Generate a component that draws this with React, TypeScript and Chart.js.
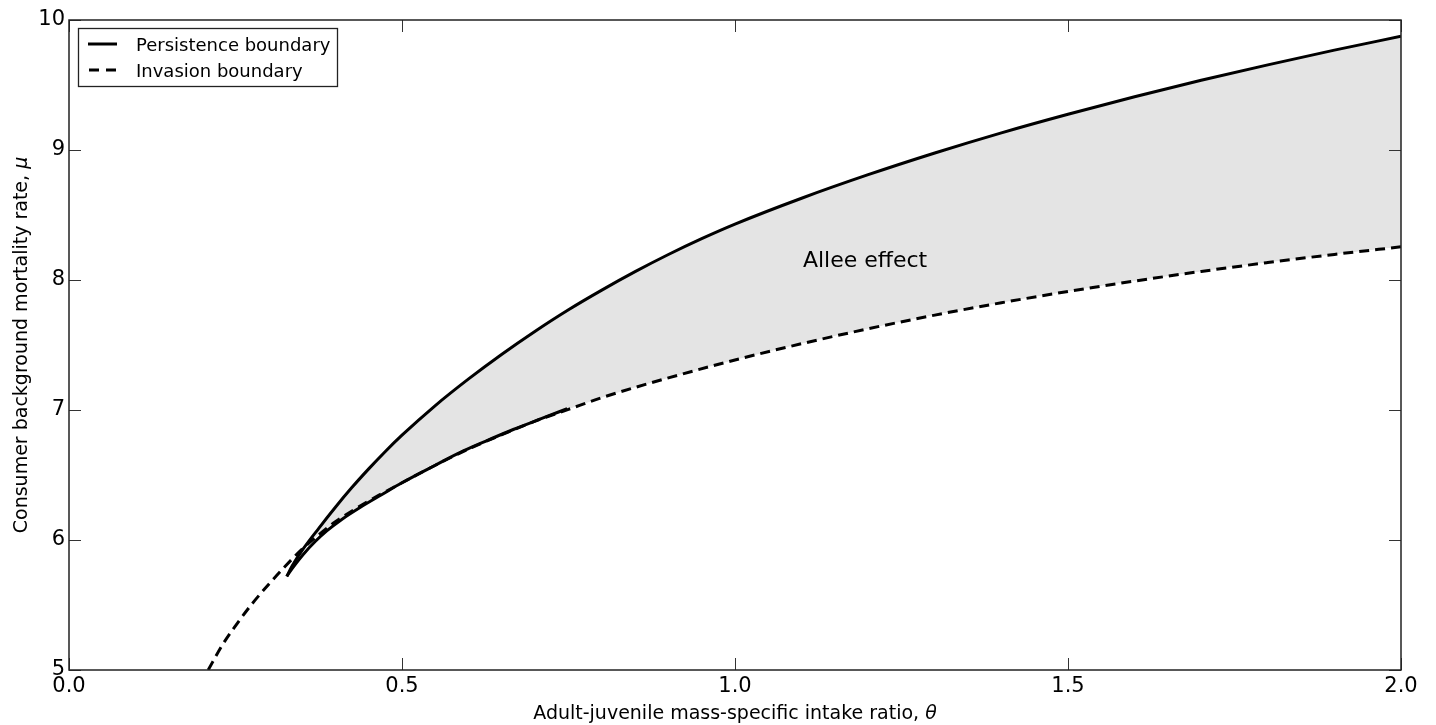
import React, { useEffect, useRef } from "react";
import { Chart, registerables } from "chart.js";

Chart.register(...registerables);

// ---- tick values / labels ----
const X_TICKS = [0, 0.5, 1.0, 1.5, 2.0];
const Y_TICKS = [5, 6, 7, 8, 9, 10];
const X_TITLE = "Adult-juvenile mass-specific intake ratio, ";
const X_SYMBOL = "θ";
const Y_TITLE = "Consumer background mortality rate, ";
const Y_SYMBOL = "μ";
const LEGEND_LABELS = ["Persistence boundary", "Invasion boundary"];
const REGION_LABEL = "Allee effect";
const REGION_LABEL_THETA = 1.102;
const REGION_LABEL_MU = 8.102;

// ---- Persistence boundary, upper branch ----
const upperTheta = [0.327, 0.335, 0.35, 0.375, 0.4, 0.425, 0.45, 0.475, 0.5, 0.55, 0.6, 0.65, 0.7, 0.75, 0.8, 0.85, 0.9, 0.95, 1.0, 1.1, 1.2, 1.3, 1.4, 1.5, 1.6, 1.7, 1.8, 1.9, 2.0];
const upperMu = [5.72, 5.8, 5.92, 6.09, 6.252, 6.405, 6.547, 6.681, 6.806, 7.034, 7.239, 7.429, 7.606, 7.771, 7.922, 8.064, 8.196, 8.318, 8.43, 8.629, 8.81, 8.977, 9.132, 9.275, 9.41, 9.536, 9.655, 9.768, 9.875];

// ---- Persistence boundary, lower branch ----
const lowerTheta = [0.327, 0.335, 0.351, 0.37, 0.387, 0.41, 0.437, 0.47, 0.5, 0.55, 0.592, 0.63, 0.667, 0.71, 0.748];
const lowerMu = [5.72, 5.78, 5.885, 5.99, 6.07, 6.16, 6.25, 6.35, 6.44, 6.575, 6.685, 6.77, 6.85, 6.935, 7.01];

// ---- Invasion boundary ----
const invasionTheta = [0.209, 0.23, 0.25, 0.275, 0.3, 0.325, 0.35, 0.375, 0.4, 0.45, 0.5, 0.55, 0.6, 0.65, 0.7, 0.75, 0.8, 0.9, 1.0, 1.1, 1.2, 1.3, 1.4, 1.5, 1.6, 1.7, 1.8, 1.9, 2.0];
const invasionMu = [5.0, 5.19, 5.34, 5.51, 5.66, 5.8, 5.93, 6.04, 6.14, 6.3, 6.44, 6.575, 6.7, 6.81, 6.915, 7.005, 7.095, 7.247, 7.385, 7.51, 7.625, 7.73, 7.825, 7.912, 7.992, 8.066, 8.134, 8.197, 8.255];

const FONT = "'DejaVu Sans', 'Liberation Sans', sans-serif";

const toPoints = (xs: number[], ys: number[]) => xs.map((x, i) => ({ x, y: ys[i] }));

const decorations = {
  id: "decorations",
  afterDraw(chart: any) {
    const ctx: CanvasRenderingContext2D = chart.ctx;
    const { left, right, top, bottom } = chart.chartArea;
    const xs = chart.scales.x;
    const ys = chart.scales.y;
    ctx.save();

    // "Allee effect" label
    ctx.fillStyle = "#000";
    ctx.font = `22px ${FONT}`;
    ctx.textAlign = "left";
    ctx.textBaseline = "alphabetic";
    ctx.fillText(REGION_LABEL, xs.getPixelForValue(REGION_LABEL_THETA), ys.getPixelForValue(REGION_LABEL_MU));

    // inward ticks on all four sides
    ctx.strokeStyle = "#333";
    ctx.lineWidth = 1;
    const tl = 12;
    ctx.beginPath();
    for (const v of X_TICKS) {
      const px = Math.round(xs.getPixelForValue(v)) + 0.5;
      ctx.moveTo(px, bottom);
      ctx.lineTo(px, bottom - tl);
      ctx.moveTo(px, top);
      ctx.lineTo(px, top + tl);
    }
    for (const v of Y_TICKS) {
      const py = Math.round(ys.getPixelForValue(v)) + 0.5;
      ctx.moveTo(left, py);
      ctx.lineTo(left + tl, py);
      ctx.moveTo(right, py);
      ctx.lineTo(right - tl, py);
    }
    ctx.stroke();

    // frame
    ctx.strokeStyle = "#222";
    ctx.lineWidth = 1.5;
    ctx.strokeRect(left, top, right - left, bottom - top);

    // legend
    const lx = 78.5, ly = 28.5, lw = 259, lh = 58;
    ctx.fillStyle = "#fff";
    ctx.fillRect(lx, ly, lw, lh);
    ctx.strokeStyle = "#222";
    ctx.lineWidth = 1.3;
    ctx.strokeRect(lx, ly, lw, lh);
    ctx.strokeStyle = "#000";
    ctx.lineWidth = 3;
    ctx.setLineDash([]);
    ctx.beginPath();
    ctx.moveTo(88, 44);
    ctx.lineTo(117, 44);
    ctx.stroke();
    ctx.setLineDash([10, 7]);
    ctx.beginPath();
    ctx.moveTo(89, 70);
    ctx.lineTo(117, 70);
    ctx.stroke();
    ctx.setLineDash([]);
    ctx.fillStyle = "#000";
    ctx.font = `18px ${FONT}`;
    ctx.textAlign = "left";
    ctx.textBaseline = "alphabetic";
    ctx.fillText(LEGEND_LABELS[0], 136, 51);
    ctx.fillText(LEGEND_LABELS[1], 136, 77);

    // x axis title
    const normal = `19px ${FONT}`;
    const italic = `italic 19px ${FONT}`;
    ctx.font = normal;
    const wx1 = ctx.measureText(X_TITLE).width;
    ctx.font = italic;
    const wx2 = ctx.measureText(X_SYMBOL).width;
    const cx = (left + right) / 2;
    const sx = cx - (wx1 + wx2) / 2;
    ctx.font = normal;
    ctx.fillText(X_TITLE, sx, 719);
    ctx.font = italic;
    ctx.fillText(X_SYMBOL, sx + wx1, 719);

    // y axis title
    ctx.font = normal;
    const wy1 = ctx.measureText(Y_TITLE).width;
    ctx.font = italic;
    const wy2 = ctx.measureText(Y_SYMBOL).width;
    ctx.translate(27, (top + bottom) / 2);
    ctx.rotate(-Math.PI / 2);
    const sy = -(wy1 + wy2) / 2;
    ctx.font = normal;
    ctx.fillText(Y_TITLE, sy, 0);
    ctx.font = italic;
    ctx.fillText(Y_SYMBOL, sy + wy1, 0);

    ctx.restore();
  },
};

export default function App() {
  const ref = useRef<HTMLCanvasElement>(null);

  useEffect(() => {
    const canvas = ref.current;
    if (!canvas) return;
    const lineStyle = {
      borderColor: "#000",
      borderWidth: 3,
      pointRadius: 0,
      cubicInterpolationMode: "monotone",
    };
    const chart = new Chart(canvas, {
      type: "line",
      data: {
        datasets: [
          {
            ...lineStyle,
            label: LEGEND_LABELS[0],
            data: toPoints(upperTheta, upperMu),
            fill: { target: 2, above: "#e4e4e4", below: "rgba(0,0,0,0)" },
          },
          {
            ...lineStyle,
            label: LEGEND_LABELS[0] + " (lower branch)",
            data: toPoints(lowerTheta, lowerMu),
            fill: false,
          },
          {
            ...lineStyle,
            label: LEGEND_LABELS[1],
            data: toPoints(invasionTheta, invasionMu),
            borderDash: [10, 6],
            fill: false,
          },
        ],
      } as any,
      options: {
        responsive: false,
        animation: false,
        maintainAspectRatio: false,
        layout: { padding: { left: 0, right: 35, top: 20, bottom: 0 } },
        plugins: {
          legend: { display: false },
          tooltip: { enabled: false },
          filler: { drawTime: "beforeDatasetsDraw", propagate: false },
        } as any,
        scales: {
          x: {
            type: "linear",
            min: 0,
            max: 2,
            afterBuildTicks: (s: any) => {
              s.ticks = X_TICKS.map((v) => ({ value: v }));
            },
            afterFit: (s: any) => {
              s.height = 55;
            },
            grid: { display: false, drawTicks: false },
            border: { display: false },
            ticks: {
              padding: 4,
              color: "#000",
              autoSkip: false,
              maxRotation: 0,
              font: { family: FONT, size: 21 },
              callback: (v: any) => Number(v).toFixed(1),
            },
          },
          y: {
            type: "linear",
            min: 5,
            max: 10,
            afterBuildTicks: (s: any) => {
              s.ticks = Y_TICKS.map((v) => ({ value: v }));
            },
            afterFit: (s: any) => {
              s.width = 69;
            },
            grid: { display: false, drawTicks: false },
            border: { display: false },
            ticks: {
              padding: 4,
              color: "#000",
              autoSkip: false,
              font: { family: FONT, size: 21 },
              callback: (v: any) => String(v),
            },
          },
        },
      } as any,
      plugins: [decorations],
    });
    return () => chart.destroy();
  }, []);

  return (
    <div style={{ position: "absolute", left: 0, top: 0, width: 1436, height: 725, background: "#fff" }}>
      <canvas ref={ref} width={1436} height={725} style={{ display: "block", width: 1436, height: 725 }} />
    </div>
  );
}
